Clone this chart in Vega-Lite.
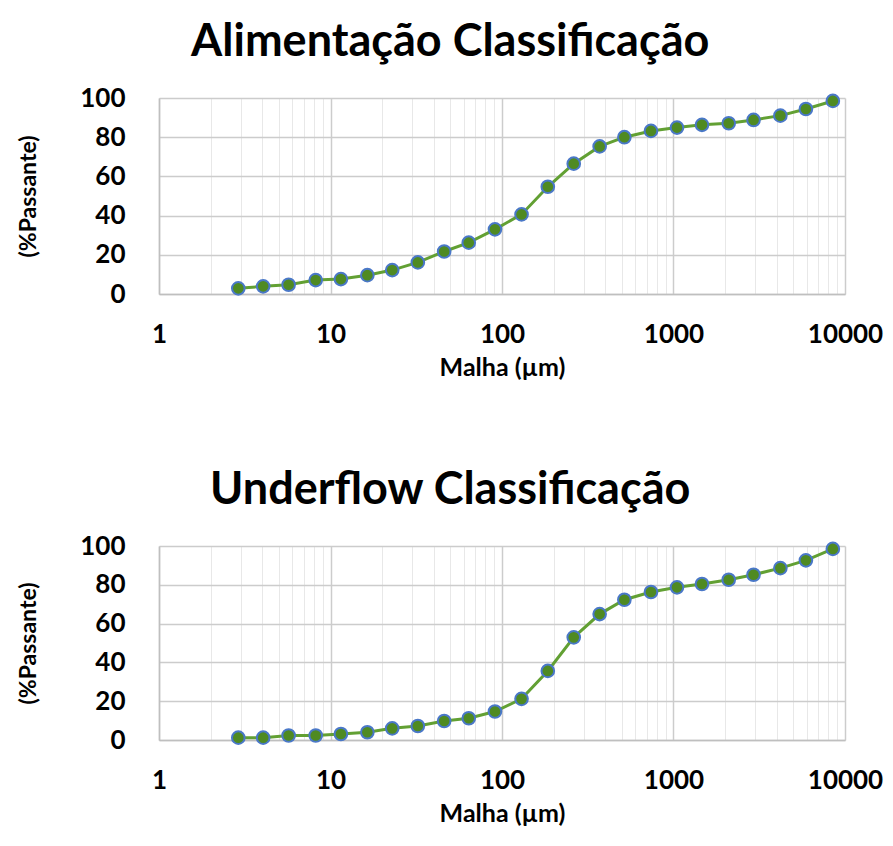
{
  "$schema": "https://vega.github.io/schema/vega-lite/v6.json",
  "padding": {"left": 17, "top": 20, "right": 4, "bottom": 4},
  "background": "white",
  "datasets": {
    "alim": [
      {"malha": 2.9, "passante": 2.9}, {"malha": 4.05, "passante": 3.9}, {"malha": 5.7, "passante": 4.7},
      {"malha": 8.2, "passante": 7.1}, {"malha": 11.5, "passante": 7.6}, {"malha": 16.4, "passante": 9.6},
      {"malha": 22.9, "passante": 12.2}, {"malha": 32.3, "passante": 16.1}, {"malha": 46, "passante": 21.7},
      {"malha": 64, "passante": 26.2}, {"malha": 91, "passante": 33.0}, {"malha": 130, "passante": 40.6},
      {"malha": 185, "passante": 54.7}, {"malha": 262, "passante": 66.5}, {"malha": 371, "passante": 75.3},
      {"malha": 517, "passante": 80.0}, {"malha": 739, "passante": 83.2}, {"malha": 1048, "passante": 84.9},
      {"malha": 1466, "passante": 86.3}, {"malha": 2099, "passante": 87.1}, {"malha": 2929, "passante": 88.8},
      {"malha": 4199, "passante": 91.0}, {"malha": 5916, "passante": 94.4}, {"malha": 8495, "passante": 98.5}
    ],
    "under": [
      {"malha": 2.9, "passante": 1.2}, {"malha": 4.05, "passante": 1.2}, {"malha": 5.7, "passante": 2.3},
      {"malha": 8.2, "passante": 2.3}, {"malha": 11.5, "passante": 3.1}, {"malha": 16.4, "passante": 4.0},
      {"malha": 22.9, "passante": 6.0}, {"malha": 32.3, "passante": 7.2}, {"malha": 46, "passante": 9.8},
      {"malha": 64, "passante": 11.2}, {"malha": 91, "passante": 14.7}, {"malha": 130, "passante": 21.2},
      {"malha": 185, "passante": 35.6}, {"malha": 262, "passante": 52.9}, {"malha": 371, "passante": 64.9},
      {"malha": 517, "passante": 72.3}, {"malha": 739, "passante": 76.3}, {"malha": 1048, "passante": 78.7},
      {"malha": 1466, "passante": 80.4}, {"malha": 2099, "passante": 82.6}, {"malha": 2929, "passante": 85.2},
      {"malha": 4199, "passante": 88.6}, {"malha": 5916, "passante": 92.6}, {"malha": 8495, "passante": 98.5}
    ]
  },
  "spacing": 88,
  "vconcat": [
    {
      "title": {"text": "Alimentação Classificação"},
      "width": 686,
      "height": 196,
      "data": {"name": "alim"},
      "encoding": {
        "x": {"field": "malha", "type": "quantitative", "title": "Malha (µm)", "scale": {"type": "log", "domain": [1, 10000], "nice": false}},
        "y": {"field": "passante", "type": "quantitative", "title": "(%Passante)", "scale": {"domain": [0, 100], "nice": false}}
      },
      "layer": [
        {"mark": {"type": "line", "color": "#62a033", "strokeWidth": 3}},
        {"mark": {"type": "point", "shape": "circle", "filled": true, "fill": "#4f8a22", "stroke": "#4a78c8", "strokeWidth": 2, "size": 160, "opacity": 1}}
      ]
    },
    {
      "title": {"text": "Underflow Classificação"},
      "width": 686,
      "height": 194,
      "data": {"name": "under"},
      "encoding": {
        "x": {"field": "malha", "type": "quantitative", "title": "Malha (µm)", "scale": {"type": "log", "domain": [1, 10000], "nice": false}},
        "y": {"field": "passante", "type": "quantitative", "title": "(%Passante)", "scale": {"domain": [0, 100], "nice": false}}
      },
      "layer": [
        {"mark": {"type": "line", "color": "#62a033", "strokeWidth": 3}},
        {"mark": {"type": "point", "shape": "circle", "filled": true, "fill": "#4f8a22", "stroke": "#4a78c8", "strokeWidth": 2, "size": 160, "opacity": 1}}
      ]
    }
  ],
  "config": {
    "font": "Lato",
    "view": {"stroke": null},
    "title": {"fontSize": 45, "fontWeight": "bold", "color": "#000000", "anchor": "middle", "frame": "bounds", "offset": 20},
    "axisX": {
      "values": [1,2,3,4,5,6,7,8,9,10,20,30,40,50,60,70,80,90,100,200,300,400,500,600,700,800,900,1000,2000,3000,4000,5000,6000,7000,8000,9000,10000],
      "format": "d",
      "labelExpr": "indexof([1,10,100,1000,10000], datum.value) >= 0 ? datum.label : ''",
      "grid": true,
      "gridColor": {"condition": {"test": "indexof([1,10,100,1000,10000], datum.value) >= 0", "value": "#cccccc"}, "value": "#e8e8e8"},
      "gridWidth": {"condition": {"test": "indexof([1,10,100,1000,10000], datum.value) >= 0", "value": 1.5}, "value": 1},
      "tickOpacity": {"condition": {"test": "indexof([1,10,100,1000,10000], datum.value) >= 0", "value": 1}, "value": 0},
      "tickColor": "#bfbfbf",
      "tickSize": 7,
      "tickWidth": 1.5,
      "domainColor": "#bfbfbf",
      "domainWidth": 1.5,
      "labelFontSize": 26,
      "labelFontWeight": "bold",
      "labelColor": "#000000",
      "labelPadding": 20,
      "labelFlush": false,
      "labelOverlap": false,
      "titleFontSize": 25,
      "titleFontWeight": "bold",
      "titleColor": "#000000",
      "titlePadding": 8
    },
    "axisY": {
      "values": [0,4,8,12,16,20,24,28,32,36,40,44,48,52,56,60,64,68,72,76,80,84,88,92,96,100],
      "labelExpr": "datum.value % 20 == 0 ? datum.label : ''",
      "grid": true,
      "gridColor": {"condition": {"test": "datum.value % 20 == 0", "value": "#cccccc"}, "value": "#eaeaea"},
      "gridWidth": {"condition": {"test": "datum.value % 20 == 0", "value": 1.5}, "value": 1},
      "tickOpacity": {"condition": {"test": "datum.value % 20 == 0", "value": 1}, "value": 0},
      "tickColor": "#bfbfbf",
      "tickSize": 8,
      "tickWidth": 1.5,
      "domainColor": "#bfbfbf",
      "domainWidth": 1.5,
      "labelFontSize": 26,
      "labelFontWeight": "bold",
      "labelColor": "#000000",
      "labelPadding": 26,
      "labelOverlap": false,
      "titleFontSize": 23,
      "titleFontWeight": "bold",
      "titleColor": "#000000",
      "titlePadding": 39
    }
  }
}
